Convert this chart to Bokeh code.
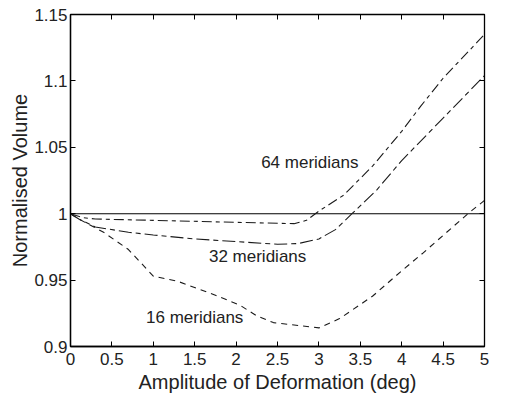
from bokeh.plotting import figure
from bokeh.models import Range1d, LinearAxis, FixedTicker, ColumnDataSource
from bokeh.embed import file_html
from bokeh.resources import INLINE
from bokeh.core.properties import value

# ---- data ----
x64 = [0, 0.15, 0.3, 1.0, 2.0, 2.7, 2.85, 3.0, 3.3, 3.65, 4.0, 4.23, 4.5, 5.0]
y64 = [1.0, 0.997, 0.996, 0.995, 0.9935, 0.9925, 0.995, 1.002, 1.014, 1.036, 1.062, 1.081, 1.102, 1.135]

x32 = [0, 0.1, 0.3, 0.7, 1.0, 1.5, 2.0, 2.5, 2.75, 3.0, 3.2, 3.4, 3.7, 4.0, 4.5, 5.0]
y32 = [1.0, 0.996, 0.990, 0.986, 0.984, 0.981, 0.979, 0.977, 0.9775, 0.981, 0.988, 1.0, 1.018, 1.040, 1.072, 1.104]

x16 = [0, 0.1, 0.4, 0.7, 1.0, 1.3, 1.75, 2.05, 2.25, 2.45, 2.8, 3.0, 3.25, 3.65, 4.0, 4.25, 4.8, 5.0]
y16 = [1.0, 0.996, 0.986, 0.973, 0.953, 0.949, 0.9386, 0.931, 0.923, 0.918, 0.9155, 0.914, 0.921, 0.938, 0.957, 0.970, 1.0, 1.010]

ref_x = [0, 5]
ref_y = [1.0, 1.0]

label_text = ["64 meridians", "32 meridians", "16 meridians"]
label_x = [2.89, 2.26, 1.5]
label_y = [1.0385, 0.968, 0.9216]

x_ticks = [0, 0.5, 1, 1.5, 2, 2.5, 3, 3.5, 4, 4.5, 5]
x_tick_labels = ["0", "0.5", "1", "1.5", "2", "2.5", "3", "3.5", "4", "4.5", "5"]
y_ticks = [0.9, 0.95, 1.0, 1.05, 1.1, 1.15]
y_tick_labels = ["0.9", "0.95", "1", "1.05", "1.1", "1.15"]

FONT = "Liberation Sans"
INK = "#1a1a1a"

p = figure(width=489, height=397, output_backend="svg", toolbar_location=None,
           x_range=Range1d(0, 5), y_range=Range1d(0.9, 1.15),
           min_border_left=70, min_border_right=5, min_border_top=14, min_border_bottom=51)
p.background_fill_color = "white"
p.border_fill_color = "white"
p.outline_line_color = "black"
p.outline_line_width = 1.3
p.xgrid.visible = False
p.ygrid.visible = False

for ax, ticks, labels in ((p.xaxis[0], x_ticks, x_tick_labels), (p.yaxis[0], y_ticks, y_tick_labels)):
    ax.ticker = FixedTicker(ticks=ticks)
    ax.major_label_overrides = {t: l for t, l in zip(ticks, labels)}
    ax.major_tick_in = 5
    ax.major_tick_out = 0
    ax.minor_tick_line_color = None
    ax.axis_line_color = "black"
    ax.axis_line_width = 1.3
    ax.major_tick_line_color = "black"
    ax.major_label_text_font = FONT
    ax.major_label_text_font_size = "17px"
    ax.major_label_text_color = "#222222"
    ax.axis_label_text_font = FONT
    ax.axis_label_text_font_size = "20px"
    ax.axis_label_text_font_style = "normal"
    ax.axis_label_text_color = "#222222"

p.xaxis.axis_label = "Amplitude of Deformation (deg)"
p.yaxis.axis_label = "Normalised Volume"
p.xaxis.major_label_standoff = 6
p.xaxis.axis_label_standoff = 3
p.yaxis.major_label_standoff = 3
p.yaxis.axis_label_standoff = 0

# mirrored tick marks on top and right (no labels)
top = LinearAxis(ticker=FixedTicker(ticks=x_ticks), major_label_text_color=None,
                 major_tick_in=5, major_tick_out=0, minor_tick_line_color=None,
                 axis_line_color="black", major_label_standoff=0)
right = LinearAxis(ticker=FixedTicker(ticks=y_ticks), major_label_text_color=None,
                   major_tick_in=5, major_tick_out=0, minor_tick_line_color=None,
                   axis_line_color="black", major_label_standoff=0)
p.add_layout(top, "above")
p.add_layout(right, "right")

p.line(ref_x, ref_y, line_color="black", line_width=1.1)
p.line(x64, y64, line_color=INK, line_width=1.1, line_dash="10 4 4 4")
p.line(x32, y32, line_color=INK, line_width=1.1, line_dash="13 4 5 4")
p.line(x16, y16, line_color=INK, line_width=1.1, line_dash="6 5")

src = ColumnDataSource(dict(x=label_x, y=label_y, t=label_text))
p.text(x="x", y="y", text="t", source=src, text_font=value(FONT), text_font_size="17px",
       text_align="center", text_baseline="middle", text_color="#222222")

open("out.html", "w").write(file_html(p, INLINE))
